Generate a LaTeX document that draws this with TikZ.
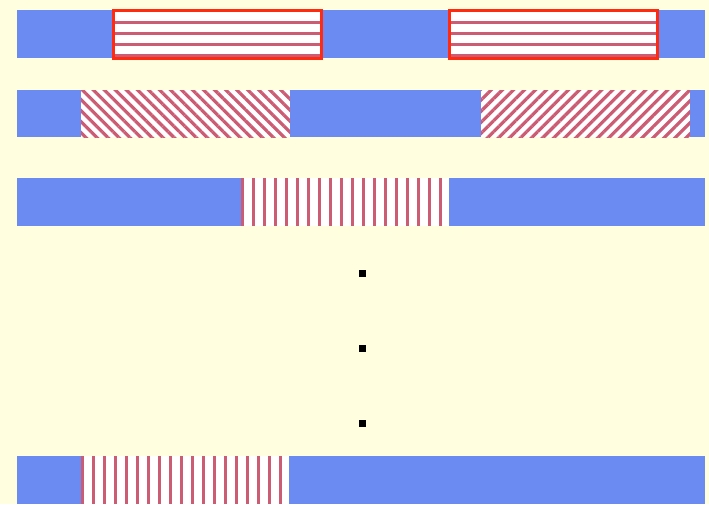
\documentclass[tikz,border=0pt]{standalone}
\usepackage{tikz}
\usepackage{xcolor}
\usetikzlibrary{patterns.meta}
\definecolor{bgYellow}{HTML}{FFFFE0}
\definecolor{barBlue}{HTML}{6C8BF2}
\definecolor{stripeRed}{HTML}{CC5C74}
\definecolor{frameRed}{HTML}{FF2A10}

\begin{document}
\begin{tikzpicture}[x=1pt, y=-1pt,
    stripe/.style={stripeRed, line width=3pt},
    frame/.style={draw=frameRed, line width=3pt}]
    \useasboundingbox (0,0) rectangle (709,504);
    \fill[bgYellow] (0,0) rectangle (709,504);
    % bars
    \foreach \t/\b in {10/58, 90/137, 178/226, 456/504}
      \fill[barBlue] (17,\t) rectangle (705,\b);
    % row 1: framed boxes with horizontal lines
    \foreach \l in {113, 449} {
      \fill[white] (\l,10) rectangle (\l+208,58);
      \foreach \y in {22, 33, 44, 55}
        \draw[stripe] (\l,\y) -- (\l+208,\y);
      \draw[frame] (\l,10) rectangle (\l+208,58);
    }
    % row 2: diagonal hatching
    \fill[white] (81,90) rectangle (290,137);
    \fill[pattern={Lines[angle=-45, distance=7.8pt, line width=3.2pt]}, pattern color=stripeRed]
      (81,90) rectangle (290,137);
    \fill[white] (481,90) rectangle (690,137);
    \fill[pattern={Lines[angle=45, distance=7.8pt, line width=3.2pt]}, pattern color=stripeRed]
      (481,90) rectangle (690,137);
    % row 3: vertical lines
    \fill[white] (241,178) rectangle (449,226);
    \foreach \k in {0,...,18}
      \draw[stripe] (242.5+11*\k,178) -- (242.5+11*\k,226);
    % last row: vertical lines
    \fill[white] (81,456) rectangle (289,504);
    \foreach \k in {0,...,18}
      \draw[stripe] (82.5+11*\k,456) -- (82.5+11*\k,504);
    % dots
    \foreach \y in {273, 348, 423}
      \fill (359,\y-3.5) rectangle (366,\y+3.5);
  \end{tikzpicture}
\end{document}
